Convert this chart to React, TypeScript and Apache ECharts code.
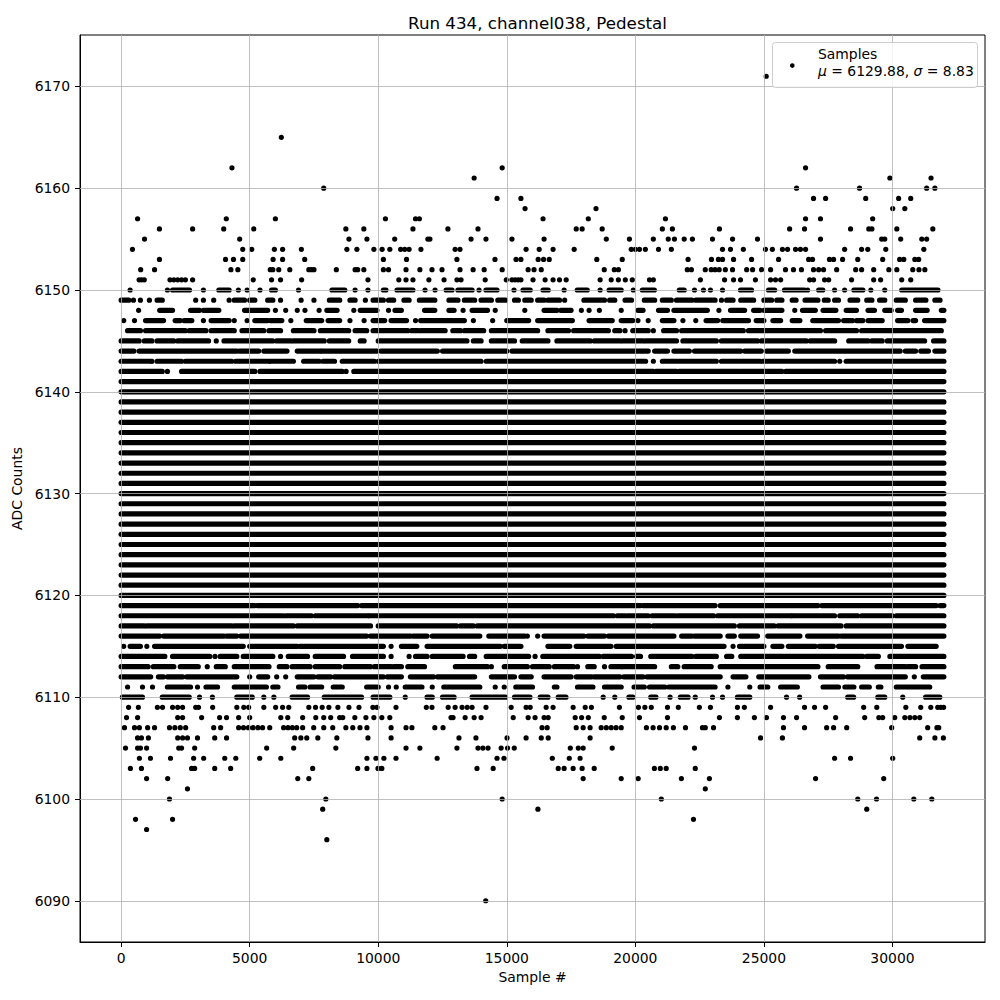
import React, { useEffect, useRef } from "react";
import * as echarts from "echarts";

// ---- data (sample positions in thousands) ----
const xTicks = [0, 5000, 10000, 15000, 20000, 25000, 30000];
const yTicks = [6090, 6100, 6110, 6120, 6130, 6140, 6150, 6160, 6170];

// levels where samples form an unbroken band over the whole run
const denseLevels = [6120, 6121, 6122, 6123, 6124, 6125, 6126, 6127, 6128, 6129, 6130,
  6131, 6132, 6133, 6134, 6135, 6136, 6137, 6138, 6139, 6140, 6141];

// partially filled levels: runs "a-b" or single samples "a" (thousands of samples)
const upperRows: [number, string][] = [
  [6150, "0.35 1.8 2.0-2.66 3.2 3.8-4.2 4.56 4.9 5.4 5.85-6.0 6.9 8.2-8.7 9.1 9.6 10.2-10.3 10.73-11.35 11.82 12.21 12.64-12.87 13.1-13.65 13.92 14.19-14.62 15.28 15.63-15.91 16.41-16.61 17.23 17.74-18.13 18.63 18.98-19.45 19.92 20.27-20.74 21.71-21.9 22.3 22.65 22.92 23.39 24.09-24.52 25.18-25.42 25.8-26.58 26.7 27.13-27.29 27.75 28.14 28.5-28.85 29.16 29.7 30.36-31.77"],
  [6149, "0-0.3 0.48 0.75 1.1 1.4-1.6 2.9 3.2 3.6 4.2 4.4-4.8 5.0-5.2 5.7-5.9 6.2 7.0 7.5 8.1-8.5 8.9-9.1 9.5 9.8-10.2 10.4-10.6 11.0-11.2 11.6-12.2 12.75-13.1 13.35-13.75 14.0-14.4 14.65-14.95 15.3-15.45 15.7-15.95 16.2-16.45 16.6-17.05 17.25 18.0-18.8 19.0-19.2 19.6-19.85 20.35-20.75 21.05-21.4 21.6-22.2 22.35-23.1 23.35 23.55-23.8 24.1-24.6 25.0-25.3 25.5-25.7 26.1-26.25 26.6-27.1 27.35-27.5 27.75-27.9 28.35-28.65 29.0-29.2 29.5-29.7 30.15-30.5 30.9-31.3 31.65-31.85"],
  [6148, "0.68 1.5-2.0 2.7-3.05 3.2-3.8 4.8-5.7 6.0 6.4 6.85 7.15 7.7 8.0-8.4 9.05 9.3-9.95 10.4 10.65-10.9 11.8-12.2 12.75-12.95 13.3 13.65-14.25 14.55 15.7 16.45-16.95 17.1-17.5 17.9 18.2 18.6 19.45 20.1-20.3 20.9-21.25 21.5-22.8 23.25 23.7-24.25 24.6-24.85 25.0-25.7 26.2 26.5-27.0 27.3-27.8 28.2-28.6 29.05-29.3 29.7-29.95 30.2-30.35 30.9-31.35 31.9-32.0"],
  [6147, "0.1 0.52 0.95-1.65 2.1-2.3 2.45-2.75 3.2 3.5-4.2 4.4 4.9 5.2-5.7 5.8-6.25 6.6 7.2-7.8 8.05-8.5 8.9 9.45 9.8-10.25 10.5-11.1 11.45 11.65-13.35 13.7 14.45 15.0-15.85 16.2-17.55 18.2-19.1 19.45-19.9 20.1 20.5 21.05-21.5 21.85 22.35 22.75-23.2 23.4-24.4 24.7-25.0 25.35-25.65 26.1-26.4 26.9-27.9 28.1-28.45 28.6-28.85 29.05-29.6 30.2-30.6 30.8-30.9 31.25-32.0"],
  [6146, "0.25-0.75 0.95-2.5 2.65-3.3 3.5-4.4 4.7-5.55 5.75-6.2 6.7-7.5 7.75-8.85 9.1-9.55 9.8-11.15 11.3-11.55 11.65-12.6 12.9-13.2 13.35-14.1 14.4-16.2 16.6-17.4 17.6-18.95 19.2-19.4 19.6 19.9-20.5 20.7 21.1-21.6 21.8-24.2 24.4-27.2 27.4-28.6 28.8-31.9"],
  [6145, "0-0.7 0.9-1.2 1.4-2.05 2.2-3.4 3.7 4.0-5.9 6.05-6.6 6.7-7.9 8.1-8.85 9.3-9.45 10.0-13.45 13.7-14.0 14.4-15.3 15.6-16.6 16.95-18.25 18.4-19.4 19.5-20.3 20.4-21.6 21.85-23.15 23.35-24.75 24.9-26.65 26.8-27.75 28.3-29.05 29.2-29.6 29.8-31.25 31.6-32.0"],
  [6144, "0-0.5 0.7-4.5 4.6-5.35 5.55-6.45 6.85-7.75 7.8-9.95 10.1-12.3 12.5-15.0 15.2-20.5 20.75-21.25 21.5-22.1 22.3-24.1 24.25-24.9 25.1-25.95 26.2-30.3 30.5-30.9 31.1-31.4 31.65-32.0"],
  [6143, "0-1.15 1.2 1.4-2.35 2.5-4.3 4.45-5.75 5.8-6.7 7.1-7.7 7.85-8.3 8.6-9.85 10.0-14.0 14.2-20.4 20.7 21.05-23.15 23.35-24.85 24.95-27.75 27.95 28.2-32.0"],
  [6142, "0-1.6 1.8 2.35-5.2 5.4-8.6 8.75 9.05-20.7 20.8-21.6 21.7-24.05 24.1-25.7 25.85-26.85 26.9-32.0"],
];

const lowerRows: [number, string][] = [
  [6119, "0-5.2 5.3-9.2 9.35-20.2 20.3-23.1 23.3-27.1 27.25-31.7 31.85-32.0"],
  [6118, "0-6.3 6.4-7.4 7.55-9.6 9.65-19.15 19.3-19.6 19.7-20.5 20.65-21.55 21.65-23.05 23.2-26.05 26.1-27.75 27.95-28.65 28.8-30.0 30.15-32.0"],
  [6117, "0-0.9 1.0-4.3 4.4-6.7 6.85-9.7 10.0-13.05 13.2-13.7 13.85-20.55 20.7-23.85 24.05-25.4 25.55-28.0 28.2-32.0"],
  [6116, "0-1.5 1.65-4.0 4.1-4.5 4.65-9.55 9.7-11.25 11.35-11.9 12.1-13.95 14.3-15.7 15.8 16.2 16.45-18.0 18.15-18.8 18.95-21.5 21.8-22.2 22.3-23.3 23.6-23.85 24.1-24.75 25.15-26.4 26.7-27.9 28.0-32.0"],
  [6115, "0.1 0.35-0.75 1.0 1.3-4.75 5.0-6.85 6.95-10.2 10.5 10.9-11.5 11.9-14.75 14.9-15.55 16.6-17.45 17.7-19.05 19.25-23.45 23.8 24.05-25.0 25.35-25.7 25.95-27.0 27.15-27.7 27.9-30.35 30.6-31.7"],
  [6114, "0-1.7 2.0-3.45 3.65 3.85-4.5 4.75-5.9 6.2 6.5-7.25 7.55-8.65 9.0-10.2 10.5 11.2 11.45-11.9 12.1-13.3 13.55-13.75 14.2-15.85 16.1 16.4-18.6 18.75-19.85 20.05-20.2 20.6-22.2 22.35-23.15 23.55-23.75 24.1-28.85 29.0-29.45 29.9-32.0"],
  [6113, "0-1.05 1.25-2.05 2.3-3.0 3.35 3.7-4.05 4.4-5.75 6.15-6.45 6.65-7.35 7.55-8.5 8.7-9.7 9.85-10.5 10.6-10.9 11.15-11.8 13.0-14.25 14.4 14.9-15.8 16.0-16.65 16.85-17.6 17.75 18.15-18.4 18.8 19.05-19.45 19.5-20.75 21.4-21.65 21.9-22.95 23.3-27.1 27.5-28.65 29.4-30.5 30.6-30.9 31.15-32.0"],
  [6112, "0-1.15 1.45-1.65 1.8-2.4 2.55-4.5 5.0 5.35-5.7 6.05 6.4 6.85-7.5 7.65-8.15 8.3-10.2 10.35-10.9 11.25-12.15 12.3-13.75 14.4-15.3 15.55-15.95 16.45-17.5 17.7-18.3 18.4-19.4 19.55-20.3 20.45-23.3 23.8-24.3 24.8-26.75 27.2-28.1 28.25-30.5 30.85 31.2-32.0"],
  [6111, "0.25 0.83 1.22 1.8-2.7 2.97 3.3-3.75 4.4-5.65 5.9-6.1 6.9-7.15 7.35-7.8 8.25-8.6 9.55-10.0 10.4 10.7 11.05-11.7 12.1 12.55-13.95 14.55 14.9 15.35-16.0 16.85-16.95 17.75-18.35 18.8-19.45 19.95-20.35 20.55-21.15 21.3-23.1 23.6 24.45 24.85-25.15 25.65-26.3 27.3-27.9 28.15-28.5 28.8-29.1 29.45-29.55 30.15-31.45"],
  [6110, "0.05-0.83 1.6-2.65 3.05 3.55 4.5-5.1 5.55 5.94 6.65-7.25 7.9-9.35 9.8-10.45 11.05 11.9-12.1 12.5-12.95 13.65-14.95 15.3-15.9 16.3-16.6 17.0-17.3 18.75 19.2 19.75-19.9 20.6-20.8 21.35 21.75-22.05 22.33 23.0 23.39 23.97-24.45 25.88 26.39 28.26-28.49 29.43-29.7 30.4 31.29-31.84"],
];

// isolated samples (sample index) on the sparse levels
const sparseRows: [number, number[]][] = [
  [6171, [25090]],
  [6165, [6230]],
  [6162, [4310, 14820, 26620]],
  [6161, [13730, 29900, 31500]],
  [6160, [7880, 26270, 28720, 31330, 31650]],
  [6159, [14620, 15550, 26930, 27400, 28960, 30240, 30710]],
  [6158, [15710, 18470, 30010, 30480]],
  [6157, [640, 4090, 6000, 10280, 11450, 11600, 16410, 18170, 21170, 26620, 27200, 29230]],
  [6156, [1490, 2780, 3990, 5160, 8740, 9440, 11350, 12710, 13880, 17700, 17930, 18710, 21050, 21440, 23270, 26000, 26580, 28370, 29080, 29200, 30170, 31570]],
  [6155, [910, 4610, 8860, 9560, 10640, 11930, 12010, 13610, 14190, 15200, 16450, 18870, 19770, 20700, 21280, 21520, 21900, 22220, 23000, 23780, 24750, 27200, 29580, 29700, 30320, 31140, 31330]],
  [6154, [440, 4730, 5080, 5960, 6280, 7010, 8780, 9170, 9830, 10150, 10450, 10870, 11030, 11200, 11660, 12990, 13180, 15750, 16260, 16800, 17620, 19840, 20000, 20160, 20390, 20900, 21400, 23390, 23700, 24200, 25060, 25330, 25720, 25920, 26230, 26420, 26620, 28140, 28800, 29040, 29740, 31220]],
  [6153, [1490, 4060, 4370, 4730, 5910, 6280, 7140, 10200, 11100, 13060, 14540, 15360, 15550, 16220, 16430, 16650, 18500, 19490, 22050, 22960, 23230, 23390, 23820, 24520, 25570, 26740, 26890, 27550, 27710, 28060, 28650, 29620, 30280, 30440, 30870, 31020]],
  [6152, [760, 1300, 4270, 4540, 5800, 5900, 6130, 6560, 7300, 7400, 7500, 8370, 9100, 9200, 9440, 10200, 10400, 11080, 11620, 12090, 12480, 13180, 13690, 14120, 14820, 15830, 16060, 16340, 18790, 19180, 19340, 22020, 22180, 22720, 22950, 23100, 23260, 23500, 23780, 24330, 24560, 24910, 25260, 25840, 26150, 26460, 26930, 27130, 27320, 27830, 28570, 28800, 29270, 29860, 30170, 30790, 31030, 31260]],
  [6151, [700, 800, 900, 1900, 2050, 2200, 2350, 2500, 2780, 5140, 5850, 6200, 7020, 9600, 10800, 11080, 11350, 11970, 12560, 13060, 13220, 14160, 14980, 15200, 15320, 15440, 15550, 16020, 16490, 16800, 17050, 17310, 18630, 19060, 19340, 19610, 19880, 20550, 20700, 22530, 23470, 23820, 24090, 24670, 25260, 25450, 25650, 26780, 26930, 27360, 27520, 28410, 29270, 29540, 30360, 30710]],
  [6109, [290, 670, 1410, 1610, 2000, 2200, 2390, 2900, 3010, 3560, 4500, 4770, 4960, 5550, 6010, 6280, 6520, 7300, 7560, 7820, 8080, 8430, 8860, 9250, 9790, 9950, 10690, 11870, 12090, 12720, 12990, 13260, 13460, 13650, 14190, 15170, 15750, 15910, 16530, 16800, 17580, 18050, 18290, 19380, 20120, 20370, 20620, 21250, 21670, 22490, 22920, 23970, 24240, 25260, 26580, 26970, 27400, 28880, 29390, 30520, 31100, 31490, 31760, 31880, 31990]],
  [6108, [210, 640, 2200, 2390, 3130, 3830, 4100, 4570, 5000, 6210, 6480, 7060, 7570, 7880, 8150, 8500, 8620, 9090, 9520, 9830, 10140, 10450, 12830, 12910, 13380, 13730, 14000, 15250, 15830, 16100, 16450, 16610, 17660, 17910, 18170, 18790, 19490, 20160, 21250, 23270, 23970, 24630, 25100, 25760, 26270, 27790, 28920, 29470, 29620, 30090, 30480, 30680, 30870, 31060]],
  [6107, [130, 520, 710, 1030, 1300, 1880, 2090, 2300, 2510, 3600, 3870, 4570, 4760, 4950, 5130, 5320, 5500, 5780, 6320, 6490, 6660, 6830, 7060, 7490, 7880, 8230, 8740, 9010, 9290, 9560, 10500, 11080, 11310, 12200, 12520, 16370, 16570, 17700, 17970, 18240, 18670, 18870, 19060, 19250, 19450, 20430, 20690, 20940, 21200, 21480, 21950, 22610, 22720, 23040, 25760, 26580, 27440, 27710, 28220, 29970, 31370, 31730, 31800]],
  [6106, [640, 790, 1060, 2200, 2390, 2580, 2970, 3640, 4100, 6750, 6990, 7220, 7650, 8390, 9600, 10500, 13140, 13800, 15010, 15750, 16340, 16610, 18240, 24870, 25720, 31060, 31650, 31980]],
  [6105, [170, 640, 750, 990, 2240, 2350, 2860, 5660, 6710, 8350, 11080, 11620, 13060, 13880, 14070, 14270, 14780, 15030, 15290, 17470, 17780, 17970, 19100, 22300]],
  [6104, [710, 1140, 1920, 2820, 3210, 4030, 4460, 5390, 6210, 9560, 9910, 10220, 10690, 12290, 14620, 14890, 16770, 17430, 17850, 27750, 28370, 30010]],
  [6103, [360, 790, 2740, 2860, 3640, 4260, 7450, 9200, 9560, 9990, 10140, 13840, 14470, 17000, 17230, 17580, 17930, 18400, 20740, 20970, 21200, 22330]],
  [6102, [990, 1810, 6870, 7300, 17970, 19450, 20110, 21790, 22880, 27010, 29660]],
  [6101, [2580, 22720]],
  [6100, [1880, 7960, 14820, 21010, 28650, 29380, 30830, 31530]],
  [6099, [7840, 16210, 29000]],
  [6098, [560, 2000, 22260]],
  [6097, [990]],
  [6096, [8000]],
  [6090, [14180]],
];

const runEnd = 32.0; // thousands of samples
const seriesName = "Samples";
const meanText = "6129.88";
const sigmaText = "8.83";
const titleText = "Run 434, channel038, Pedestal";

const FONT = "DejaVu Sans";

function buildMarks(): number[][] {
  const out: number[][] = [];
  for (const lvl of denseLevels) out.push([0, runEnd * 1000, lvl]);
  const rows = [...upperRows, ...lowerRows];
  for (const [lvl, s] of rows) {
    for (const tok of s.split(" ")) {
      if (!tok) continue;
      const parts = tok.split("-").map(Number);
      const a = parts[0] * 1000;
      const b = (parts.length > 1 ? parts[1] : parts[0]) * 1000;
      out.push([a, b, lvl]);
    }
  }
  for (const [lvl, xs] of sparseRows) for (const x of xs) out.push([x, x, lvl]);
  return out;
}

export default function App() {
  const ref = useRef<HTMLDivElement>(null);
  useEffect(() => {
    if (!ref.current) return;
    const chart = echarts.init(ref.current, undefined, { renderer: "svg" });
    const DOT = 5.2;
    const marks = buildMarks();
    const gridLineData: any[] = [
      ...xTicks.map((v) => ({ xAxis: v })),
      ...yTicks.map((v) => ({ yAxis: v })),
    ];
    chart.setOption({
      animation: false,
      backgroundColor: "#ffffff",
      textStyle: { fontFamily: FONT },
      title: {
        text: titleText,
        left: 532.5,
        top: 9,
        textAlign: "center",
        textStyle: { fontFamily: FONT, fontSize: 16.7, fontWeight: "normal", color: "#000" },
      },
      grid: {
        left: 80, right: 15, top: 35, bottom: 58,
        show: true, borderColor: "#000", borderWidth: 1, backgroundColor: "transparent",
        containLabel: false, outerBoundsMode: "none",
      },
      xAxis: {
        type: "value",
        min: -1600, max: 33599,
        name: "Sample #",
        nameLocation: "middle",
        nameGap: 28,
        nameTextStyle: { fontFamily: FONT, fontSize: 13.9, color: "#000" },
        axisLine: { show: true, onZero: false, lineStyle: { color: "#000", width: 1 } },
        axisTick: { show: true, inside: false, length: 5, customValues: xTicks, lineStyle: { color: "#000" } },
        axisLabel: { customValues: xTicks, margin: 9, fontFamily: FONT, fontSize: 13.9, color: "#000", formatter: (v: number) => String(v) },
        splitLine: { show: false },
      },
      yAxis: {
        type: "value",
        min: 6085.95, max: 6175.05,
        name: "ADC Counts",
        nameLocation: "middle",
        nameGap: 52,
        nameRotate: 90,
        nameTextStyle: { fontFamily: FONT, fontSize: 13.9, color: "#000" },
        axisLine: { show: true, onZero: false, lineStyle: { color: "#000", width: 1 } },
        axisTick: { show: true, inside: false, length: 5, customValues: yTicks, lineStyle: { color: "#000" } },
        axisLabel: { customValues: yTicks, margin: 10, fontFamily: FONT, fontSize: 13.9, color: "#000", formatter: (v: number) => String(v) },
        splitLine: { show: false },
      },
      series: [
        {
          name: seriesName,
          type: "custom",
          z: 2,
          clip: true,
          data: marks,
          encode: { x: [0, 1], y: 2 },
          renderItem: (params: any, api: any) => {
            const y = api.value(2);
            const a = api.coord([api.value(0), y]);
            const b = api.coord([api.value(1), y]);
            const r = DOT / 2;
            return {
              type: "rect",
              shape: { x: a[0] - r, y: a[1] - r, width: b[0] - a[0] + DOT, height: DOT, r },
              style: { fill: "#000" },
            };
          },
        },
        {
          type: "line",
          z: 5,
          data: [],
          silent: true,
          markLine: {
            silent: true,
            symbol: ["none", "none"],
            label: { show: false },
            lineStyle: { color: "#b0b0b0", width: 0.8, type: "solid" },
            emphasis: { disabled: true },
            data: gridLineData,
          },
        },
      ],
      graphic: [
        {
          type: "rect",
          z: 100,
          shape: { x: 772.5, y: 42.5, width: 205, height: 45, r: 3 },
          style: { fill: "rgba(255,255,255,0.8)", stroke: "#cccccc", lineWidth: 1 },
        },
        {
          type: "circle",
          z: 101,
          shape: { cx: 792.3, cy: 65.6, r: 2.3 },
          style: { fill: "#000" },
        },
        {
          type: "text",
          z: 101,
          x: 818,
          y: 45.5,
          style: {
            text: seriesName + "\n{i|μ} = " + meanText + ", {i|σ} = " + sigmaText,
            fontFamily: FONT,
            fontSize: 13.9,
            lineHeight: 17,
            fill: "#000",
            rich: { i: { fontStyle: "italic", fontFamily: FONT, fontSize: 13.9, lineHeight: 17 } },
          },
        },
      ],
    });
    return () => chart.dispose();
  }, []);
  return (
    <div
      ref={ref}
      style={{ position: "fixed", left: 0, top: 0, width: 1000, height: 1000, background: "#fff" }}
    />
  );
}
